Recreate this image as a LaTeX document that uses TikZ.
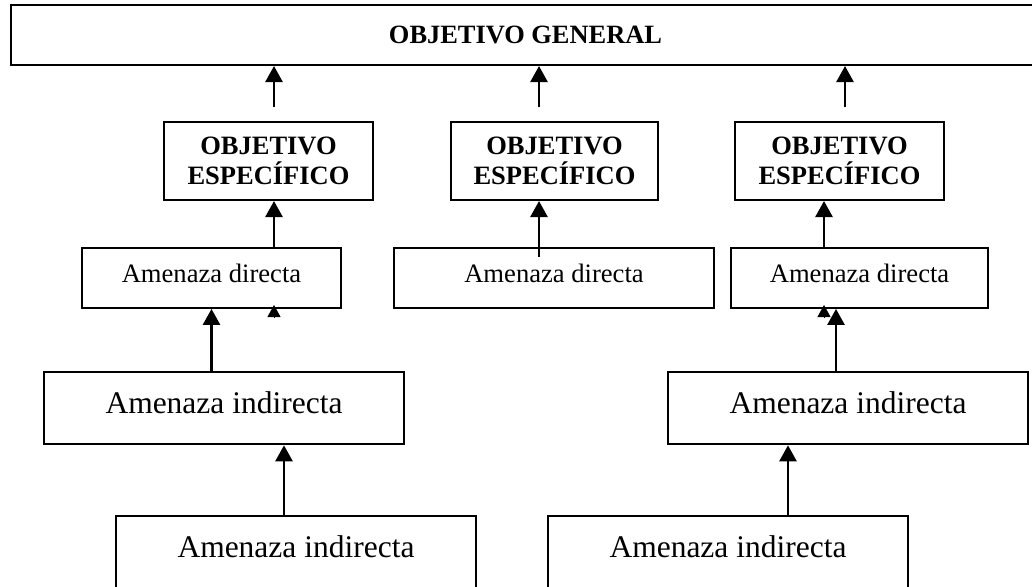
\documentclass[tikz,border=0pt]{standalone}
\usepackage{fontspec}
\setmainfont{Liberation Serif}
\usetikzlibrary{arrows.meta}

\begin{document}
\begin{tikzpicture}[x=0.5pt,y=-0.5pt,
    genbox/.style={draw,line width=1pt,inner sep=0pt,minimum width=514.5pt,minimum height=30pt,font=\fontsize{13.2}{15}\selectfont\bfseries},
    specbox/.style={draw,line width=1pt,inner sep=0pt,minimum height=39pt,align=center,font=\fontsize{13.25}{15}\selectfont\bfseries},
    dirbox/.style={draw,line width=0.9pt,inner sep=0pt,minimum height=30pt,text depth=4.5pt,font=\fontsize{13.3}{15}\selectfont},
    indbox/.style={draw,line width=1.3pt,inner sep=0pt,minimum width=180pt,minimum height=36pt,text depth=5pt,font=\fontsize{15.75}{18}\selectfont},
    upto/.style={line width=1.3pt,-{Triangle[length=8pt,width=8.5pt]}},
    stray/.style={line width=0.5pt,-{Triangle[length=6pt,width=6.5pt]}}]
                \useasboundingbox (0,0) rectangle (1032,586);
                %general objective on top
                \node[genbox] (gen) at (525.5,35) {OBJETIVO GENERAL};
                %specific objectives
                \node[specbox,minimum width=104.5pt] (spec1) at (268.5,161) {OBJETIVO\\ESPECÍFICO};
                \node[specbox,minimum width=103.5pt] (spec2) at (554.5,161) {OBJETIVO\\ESPECÍFICO};
                \node[specbox,minimum width=104.5pt] (spec3) at (839.5,161) {OBJETIVO\\ESPECÍFICO};
                %direct threats
                \node[dirbox,minimum width=129.5pt] (dir1) at (211.5,278) {Amenaza directa};
                \node[dirbox,minimum width=160pt] (dir2) at (554,278) {Amenaza directa};
                \node[dirbox,minimum width=128.5pt] (dir3) at (859.5,278) {Amenaza directa};
                %indirect threats
                \node[indbox] (ind1) at (224,408) {Amenaza indirecta};
                \node[indbox] (ind2) at (848,408) {Amenaza indirecta};
                \node[indbox,minimum height=42pt,text depth=11pt] (low1) at (296,558) {Amenaza indirecta};
                \node[indbox,minimum height=42pt,text depth=11pt] (low2) at (728,558) {Amenaza indirecta};
                %columns of the arrows
                \coordinate (c1) at (274,107);
                \coordinate (c2) at (539,107);
                \coordinate (c3) at (845,107);
                \coordinate (c4) at (824,0);
                \coordinate (c5) at (836,0);
                \coordinate (c6) at (284,0);
                \coordinate (c7) at (788,0);
                %arrows up to the general objective
                \draw[upto] (c1) -- (c1 |- gen.south);
                \draw[upto] (c2) -- (c2 |- gen.south);
                \draw[upto] (c3) -- (c3 |- gen.south);
                %arrows up to the specific objectives
                \draw[upto] (dir1.north -| c1) -- (spec1.south -| c1);
                \draw[upto] ([yshift=-5pt]dir2.north -| c2) -- (spec2.south -| c2);
                \draw[upto] (dir3.north -| c4) -- (spec3.south -| c4);
                %arrows up to the direct threats
                \draw[upto] (ind1.north -| dir1.south) -- (dir1.south);
                \draw[upto] (ind2.north -| c5) -- (dir3.south -| c5);
                \draw[upto] (low1.north -| c6) -- (ind1.south -| c6);
                \draw[upto] (low2.north -| c7) -- (ind2.south -| c7);
                %loose arrow heads
                \coordinate (k1) at (274,317);
                \coordinate (k1t) at (274,305);
                \coordinate (k2) at (824,317);
                \coordinate (k2t) at (824,305);
                \draw[stray] (k1) -- (k1t);
                \draw[stray] (k2) -- (k2t);
\end{tikzpicture}
\end{document}
